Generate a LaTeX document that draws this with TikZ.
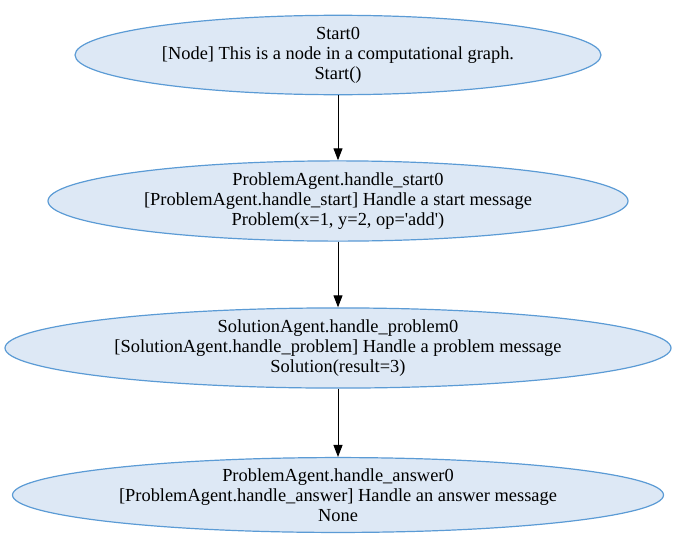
\documentclass[tikz,border=0pt]{standalone}
\usepackage{fontspec}
\setmainfont{Liberation Serif}
\usetikzlibrary{shapes.geometric,arrows.meta}
\definecolor{nodefill}{HTML}{DDE8F5}
\definecolor{nodeline}{HTML}{5B9BD5}
\tikzset{
  gnode/.style={ellipse, draw=nodeline, fill=nodefill, line width=1.2pt, inner sep=0pt,
    align=center, font=\fontsize{18.4}{20}\selectfont},
  garrow/.style={-{Triangle[length=12pt,width=9pt]}, line width=1pt, draw=black}
}
\begin{document}
\begin{tikzpicture}[x=1pt,y=-1pt]
\useasboundingbox (0,0) rectangle (676,554);
\node[gnode, minimum width=526pt, minimum height=68pt] (n0) at (338,55)
  {Start0\\ {[Node]} This is a node in a computational graph.\\ Start()};
\node[gnode, minimum width=580pt, minimum height=70pt] (n1) at (338,201)
  {ProblemAgent.handle\_start0\\ {[ProblemAgent.handle\_start]} Handle a start message\\ Problem(x=1, y=2, op=\textquotesingle add\textquotesingle)};
\node[gnode, minimum width=666pt, minimum height=72pt] (n2) at (338,348)
  {SolutionAgent.handle\_problem0\\ {[SolutionAgent.handle\_problem]} Handle a problem message\\ Solution(result=3)};
\node[gnode, minimum width=651pt, minimum height=72pt] (n3) at (338,495)
  {ProblemAgent.handle\_answer0\\ {[ProblemAgent.handle\_answer]} Handle an answer message\\ None};
\draw[garrow] (n0) -- (n1);
\draw[garrow] (n1) -- (n2);
\draw[garrow] (n2) -- (n3);
\end{tikzpicture}
\end{document}
